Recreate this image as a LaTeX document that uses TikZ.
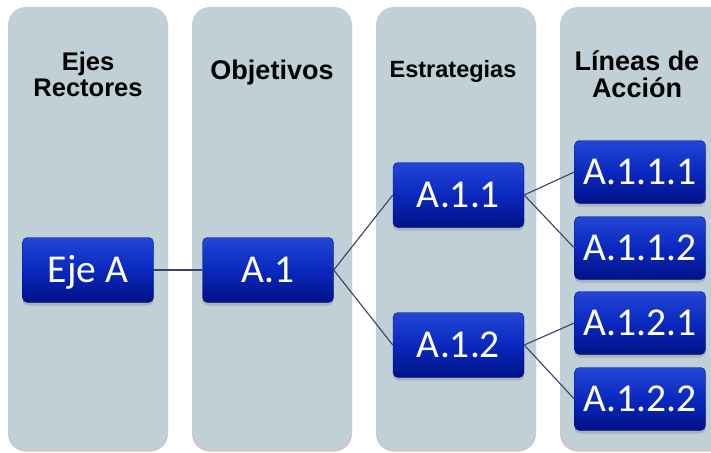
\documentclass[tikz,border=0pt]{standalone}
\usepackage{fontspec}
\setmainfont{Liberation Sans}
\newfontfamily\boxfont{Carlito}
\usetikzlibrary{shadows}
\definecolor{colfill}{RGB}{192,208,214}
\definecolor{boxtop}{RGB}{36,70,214}
\definecolor{boxmid}{RGB}{10,40,190}
\definecolor{boxbot}{RGB}{0,18,135}
\definecolor{linkcol}{RGB}{55,65,105}
\begin{document}
\begin{tikzpicture}[x=1pt,y=-1pt,
  colbox/.style={fill=colfill, rounded corners=18pt,
    drop shadow={shadow xshift=0pt, shadow yshift=-2.5pt, opacity=0.35, fill=black!60}},
  head/.style={font=\bfseries\fontsize{25.5}{26}\selectfont, align=center, text=black},
  bluebox/.style={rounded corners=5pt, top color=boxtop, bottom color=boxbot, middle color=boxmid,
    draw=boxbot, line width=0.4pt,
    minimum width=131pt, minimum height=65pt, inner sep=0pt,
    text=white, font=\boxfont\fontsize{39.5}{39.5}\selectfont,
    text height=25pt, text depth=0pt,
    drop shadow={shadow xshift=0pt, shadow yshift=-3pt, opacity=0.35}},
  link/.style={draw=linkcol, line width=1.1pt}]
\clip (0,0) rectangle (711,452);
\fill[white] (0,0) rectangle (711,452);
% columns
\path[colbox] (8,7) rectangle (168,449);
\path[colbox] (192,7) rectangle (352,449);
\path[colbox] (376,7) rectangle (536,449);
\path[colbox] (560,7) rectangle (728,449);
% headers
\node[head] (h1) at (88,74) {Ejes\\Rectores};
\node[head, font=\bfseries\fontsize{27}{28}\selectfont] (h2) at (272,73) {Objetivos};
\node[head, font=\bfseries\fontsize{23.5}{24}\selectfont] (h3) at (453,71) {Estrategias};
\node[head, font=\bfseries\fontsize{27}{27}\selectfont] (h4) at (637,74) {Líneas de\\Acción};
% boxes
\node[bluebox] (ejeA) at (88,270) {Eje A};
\node[bluebox] (a1) at (268,270) {A.1};
\node[bluebox] (a11) at (458.5,195) {A.1.1};
\node[bluebox] (a12) at (458.5,345) {A.1.2};
\node[bluebox, minimum height=63pt] (a111) at (640,172) {A.1.1.1};
\node[bluebox, minimum height=63pt] (a112) at (640,248) {A.1.1.2};
\node[bluebox, minimum height=63pt] (a121) at (640,323) {A.1.2.1};
\node[bluebox, minimum height=63pt] (a122) at (640,399) {A.1.2.2};
% links
\draw[link] (ejeA.east) -- (a1.west);
\draw[link] (a1.east) -- (a11.west);
\draw[link] (a1.east) -- (a12.west);
\draw[link] (a11.east) -- (a111.west);
\draw[link] (a11.east) -- (a112.west);
\draw[link] (a12.east) -- (a121.west);
\draw[link] (a12.east) -- (a122.west);
\end{tikzpicture}
\end{document}
